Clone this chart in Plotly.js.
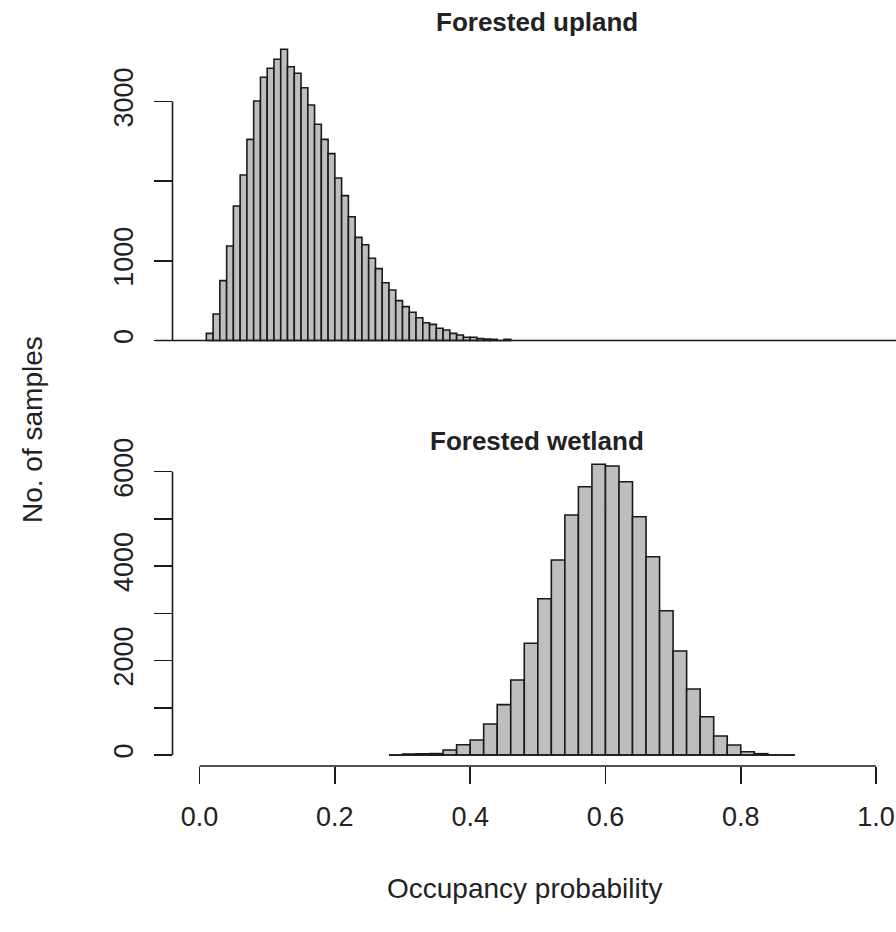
<!DOCTYPE html>
<html>
<head>
<meta charset="utf-8">
<script src="https://cdn.plot.ly/plotly-3.0.1.min.js"></script>
<style>html,body{margin:0;padding:0;background:#fff;}#chart{width:896px;height:932px;}</style>
</head>
<body>
<div id="chart"></div>
<script>
// ---- data ----
const uplandBinStart = [0.01,0.02,0.03,0.04,0.05,0.06,0.07,0.08,0.09,0.10,0.11,0.12,0.13,0.14,0.15,0.16,0.17,0.18,0.19,0.20,0.21,0.22,0.23,0.24,0.25,0.26,0.27,0.28,0.29,0.30,0.31,0.32,0.33,0.34,0.35,0.36,0.37,0.38,0.39,0.40,0.41,0.42,0.43,0.44,0.45];
const uplandCounts = [90,333,751,1186,1688,2077,2525,3006,3304,3417,3530,3655,3437,3354,3173,2956,2714,2525,2345,2040,1818,1554,1295,1202,1032,902,725,634,500,425,354,286,223,203,153,132,90,69,40,40,25,18,15,0,15];
const uplandBinWidth = 0.01;
const uplandBreaksFrom = -0.065;

const wetlandBinStart = [0.28,0.30,0.32,0.34,0.36,0.38,0.40,0.42,0.44,0.46,0.48,0.50,0.52,0.54,0.56,0.58,0.60,0.62,0.64,0.66,0.68,0.70,0.72,0.74,0.76,0.78,0.80,0.82,0.84,0.86];
const wetlandCounts = [0,20,25,30,106,218,318,656,1066,1588,2365,3310,4130,5083,5682,6156,6120,5788,5047,4200,3056,2202,1398,811,402,212,70,28,0,0];
const wetlandBinWidth = 0.02;

const xTickVals = [0,0.2,0.4,0.6,0.8,1.0];
const xTickText = ['0.0','0.2','0.4','0.6','0.8','1.0'];
const uplandYTicks = [0,1000,2000,3000];
const uplandYLabels = ['0','1000','','3000'];
const wetlandYTicks = [0,1000,2000,3000,4000,5000,6000];
const wetlandYLabels = ['0','','2000','','4000','','6000'];

const panelTitles = ['Forested upland','Forested wetland'];
const xTitle = 'Occupancy probability';
const yTitle = 'No. of samples';

// ---- styling / layout ----
const W = 896, H = 932;
const FONT = 'Liberation Sans, Arial, Helvetica, sans-serif';
const INK = '#1a1a1a';
const TXT = '#222222';
const FILL = '#bebebe';
const LW = 1.6;
const xRange = [-0.04, 1.0295];
const xDomain = [172.5 / W, 1];
const py = p => 1 - p / H;

function mids(starts, w) { return starts.map(s => s + w / 2); }

const traces = [
  { type: 'bar', x: mids(uplandBinStart, uplandBinWidth), y: uplandCounts, width: uplandBinWidth,
    xaxis: 'x', yaxis: 'y', marker: { color: FILL, line: { color: INK, width: LW } }, hoverinfo: 'x+y' },
  { type: 'bar', x: mids(wetlandBinStart, wetlandBinWidth), y: wetlandCounts, width: wetlandBinWidth,
    xaxis: 'x2', yaxis: 'y2', marker: { color: FILL, line: { color: INK, width: LW } }, hoverinfo: 'x+y' }
];

const yCommon = {
  showgrid: false, zeroline: false, showline: false,
  ticks: 'outside', ticklen: 18, tickwidth: LW, tickcolor: INK,
  tickangle: -90, tickfont: { family: FONT, size: 27, color: TXT },
  tickmode: 'array', ticklabelstandoff: 10
};

const layout = {
  width: W, height: H, margin: { l: 0, r: 0, t: 0, b: 0 },
  paper_bgcolor: '#fff', plot_bgcolor: '#fff', showlegend: false, bargap: 0,
  font: { family: FONT, color: TXT },
  xaxis: { domain: xDomain, range: xRange, anchor: 'y', showticklabels: false, ticks: '',
           showgrid: false, zeroline: false, showline: false },
  xaxis2: { domain: xDomain, range: xRange, anchor: 'y2', showgrid: false, zeroline: false, showline: false,
            tickmode: 'array', tickvals: xTickVals, ticktext: xTickText,
            ticks: 'outside', ticklen: 17, tickwidth: LW, tickcolor: INK,
            tickfont: { family: FONT, size: 27, color: TXT }, ticklabelstandoff: 10 },
  yaxis: Object.assign({}, yCommon, { domain: [py(352.1), py(37.7)], range: [-145.6, 3800.7], anchor: 'x',
           tickvals: uplandYTicks, ticktext: uplandYLabels }),
  yaxis2: Object.assign({}, yCommon, { domain: [py(766), py(452.7)], range: [-233, 6402], anchor: 'x2',
           tickvals: wetlandYTicks, ticktext: wetlandYLabels }),
  shapes: [
    // y axis lines (span first to last tick, R style)
    { type: 'line', xref: 'x domain', yref: 'y', x0: 0, x1: 0, y0: uplandYTicks[0], y1: uplandYTicks[uplandYTicks.length - 1], line: { color: INK, width: LW } },
    { type: 'line', xref: 'x2 domain', yref: 'y2', x0: 0, x1: 0, y0: wetlandYTicks[0], y1: wetlandYTicks[wetlandYTicks.length - 1], line: { color: INK, width: LW } },
    // bottom x axis line
    { type: 'line', xref: 'x2', yref: 'y2 domain', x0: xTickVals[0], x1: xTickVals[xTickVals.length - 1], y0: 0, y1: 0, line: { color: INK, width: LW } },
    // histogram baselines
    { type: 'line', xref: 'x domain', yref: 'y', x0: (uplandBreaksFrom - xRange[0]) / (xRange[1] - xRange[0]), x1: 1, y0: 0, y1: 0, line: { color: INK, width: LW } },
    { type: 'line', xref: 'x2', yref: 'y2', x0: wetlandBinStart[0], x1: wetlandBinStart[wetlandBinStart.length - 1] + wetlandBinWidth, y0: 0, y1: 0, line: { color: INK, width: LW } }
  ],
  annotations: [
    { text: '<b>' + panelTitles[0] + '</b>', xref: 'paper', yref: 'paper', x: 537 / W, y: py(22), showarrow: false,
      xanchor: 'center', yanchor: 'middle', font: { family: FONT, size: 26, color: TXT } },
    { text: '<b>' + panelTitles[1] + '</b>', xref: 'paper', yref: 'paper', x: 537 / W, y: py(441), showarrow: false,
      xanchor: 'center', yanchor: 'middle', font: { family: FONT, size: 26, color: TXT } },
    { text: xTitle, xref: 'paper', yref: 'paper', x: 524 / W, y: py(888), showarrow: false,
      xanchor: 'center', yanchor: 'middle', font: { family: FONT, size: 28, color: TXT } },
    { text: yTitle, xref: 'paper', yref: 'paper', x: 32 / W, y: py(430), showarrow: false, textangle: -90,
      xanchor: 'center', yanchor: 'middle', font: { family: FONT, size: 28, color: TXT } }
  ]
};

Plotly.newPlot('chart', traces, layout, { displayModeBar: false, staticPlot: true });
</script>
</body>
</html>
